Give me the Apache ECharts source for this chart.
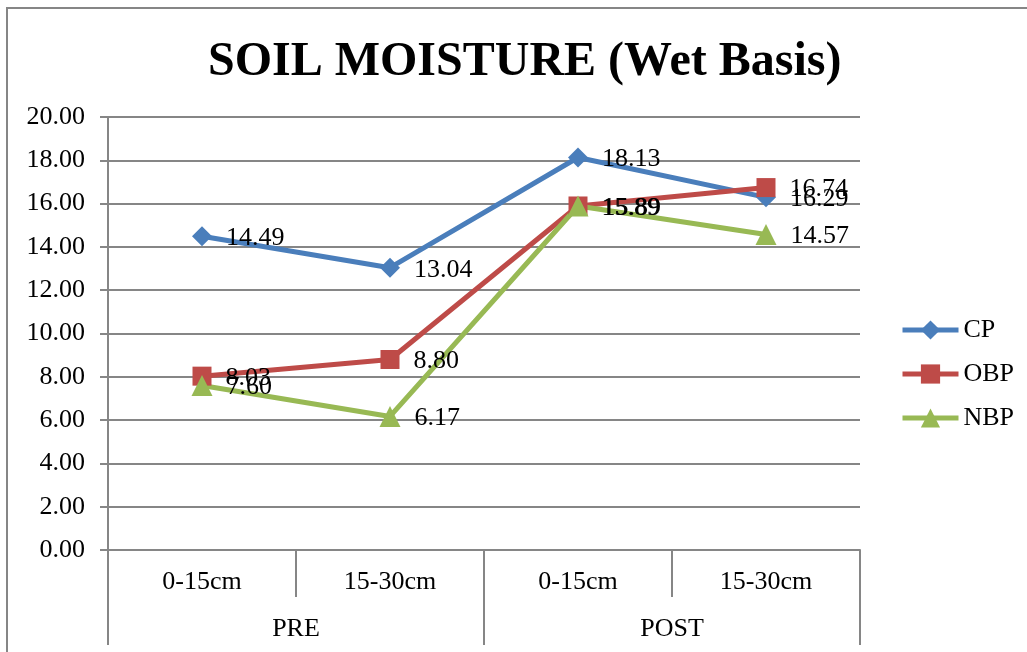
<!DOCTYPE html>
<html>
<head>
<meta charset="utf-8">
<script src="https://cdn.jsdelivr.net/npm/echarts@6/dist/echarts.min.js"></script>
<style>
  html, body { margin: 0; padding: 0; background: #fff; }
  #chart { width: 1027px; height: 652px; }
</style>
</head>
<body>
<div id="chart"></div>
<script>
	// depth categories and the season groups under them
	var depths = ['0-15cm', '15-30cm', '0-15cm', '15-30cm'];
	var seasons = ['PRE', 'POST'];

	var cpData = [14.49, 13.04, 18.13, 16.29];
	var obpData = [8.03, 8.80, 15.89, 16.74];
	var nbpData = [7.60, 6.17, 15.89, 14.57];

	var yTicks = { min: 0, max: 20, interval: 2 };

	var fontFam = '"Liberation Serif", "Times New Roman", serif';
	var gridColor = '#868686';

	function lineSeries(name, data, color, symbol, size) {
		return {
			name: name,
			type: 'line',
			data: data,
			xAxisIndex: 0,
			symbol: symbol,
			symbolSize: size,
			lineStyle: { color: color, width: 5 },
			itemStyle: { color: color },
			label: {
				show: true,
				position: 'right',
				distance: 14,
				offset: [0, 2],
				fontFamily: fontFam,
				fontSize: 26,
				color: '#000',
				formatter: function (p) { return p.value.toFixed(2); }
			}
		};
	}

	var chart = echarts.init(document.getElementById('chart'));

	chart.setOption({
		animation: false,
		backgroundColor: '#fff',
		textStyle: { fontFamily: fontFam },
		graphic: [{
			type: 'rect',
			shape: { x: 7, y: 8, width: 1100, height: 700 },
			style: { fill: 'none', stroke: gridColor, lineWidth: 2 },
			silent: true
		}],
		title: {
			text: 'SOIL MOISTURE (Wet Basis)',
			left: 203,
			top: 34,
			textStyle: { fontFamily: fontFam, fontWeight: 'bold', fontSize: 48, color: '#000' }
		},
		legend: {
			orient: 'vertical',
			left: 895,
			top: 312,
			itemWidth: 56,
			itemHeight: 24,
			itemGap: 18,
			lineStyle: { width: 5 },
			textStyle: { fontFamily: fontFam, fontSize: 26, color: '#000' },
			data: ['CP', 'OBP', 'NBP']
		},
		grid: { left: 108, top: 117, right: 167, bottom: 102, containLabel: false },
		xAxis: [{
			type: 'category',
			data: depths,
			position: 'bottom',
			boundaryGap: true,
			axisLine: { lineStyle: { color: gridColor, width: 2 } },
			axisTick: { show: true, length: 47, lineStyle: { color: gridColor, width: 2 } },
			axisLabel: { margin: 19, fontFamily: fontFam, fontSize: 26, color: '#000' }
		}, {
			type: 'category',
			data: seasons,
			position: 'bottom',
			offset: 47,
			boundaryGap: true,
			axisLine: { show: false },
			axisTick: { show: true, length: 48, lineStyle: { color: gridColor, width: 2 } },
			axisLabel: { margin: 19, fontFamily: fontFam, fontSize: 26, color: '#000' }
		}],
		yAxis: {
			type: 'value',
			min: yTicks.min,
			max: yTicks.max,
			interval: yTicks.interval,
			axisLine: { show: true, lineStyle: { color: gridColor, width: 2 } },
			axisTick: { show: true, length: 8, lineStyle: { color: gridColor, width: 2 } },
			splitLine: { lineStyle: { color: gridColor, width: 2 } },
			axisLabel: {
				margin: 23,
				fontFamily: fontFam,
				fontSize: 26,
				color: '#000',
				formatter: function (v) { return v.toFixed(2); }
			}
		},
		series: [
			lineSeries('CP', cpData, '#4A7EBB', 'diamond', 20),
			lineSeries('OBP', obpData, '#BE4B48', 'rect', 19),
			lineSeries('NBP', nbpData, '#98B954', 'triangle', 21)
		]
	});
</script>
</body>
</html>
